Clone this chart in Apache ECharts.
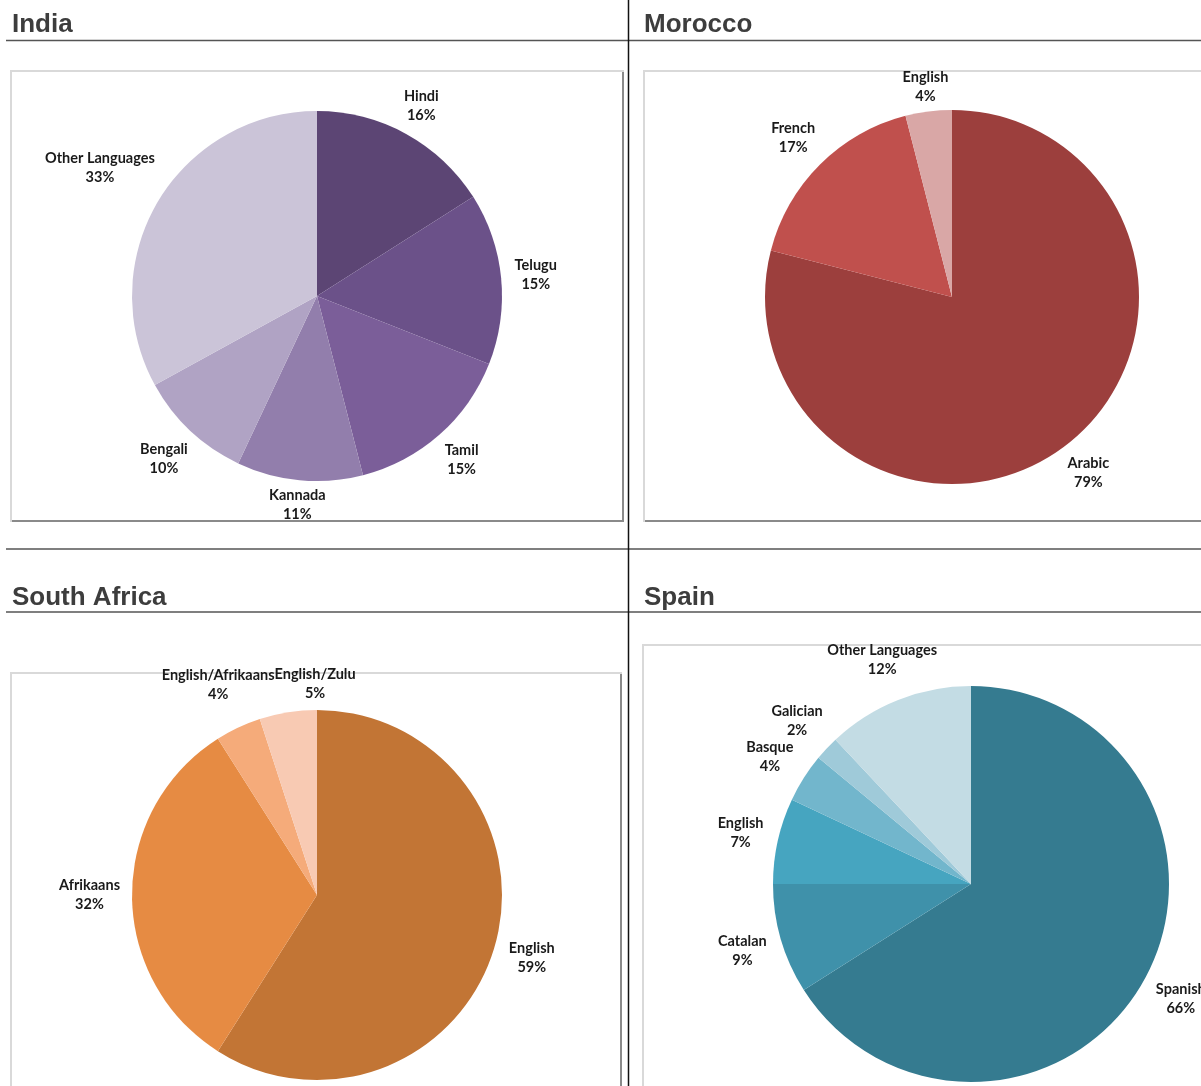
<!DOCTYPE html>
<html>
<head>
<meta charset="utf-8">
<script src="https://cdn.jsdelivr.net/npm/echarts@6/dist/echarts.min.js"></script>
<style>
html,body{margin:0;padding:0;background:#fff;}
#chart{width:1201px;height:1086px;}
</style>
</head>
<body>
<div id="chart"></div>
<script>
// ---- Data ----
const panelTitles = ['India', 'Morocco', 'South Africa', 'Spain'];

const indiaLangs = ['Hindi', 'Telugu', 'Tamil', 'Kannada', 'Bengali', 'Other Languages'];
const indiaPct = [16, 15, 15, 11, 10, 33];

const moroccoLangs = ['Arabic', 'French', 'English'];
const moroccoPct = [79, 17, 4];

const southAfricaLangs = ['English', 'Afrikaans', 'English/Afrikaans', 'English/Zulu'];
const southAfricaPct = [59, 32, 4, 5];

const spainLangs = ['Spanish', 'Catalan', 'English', 'Basque', 'Galician', 'Other Languages'];
const spainPct = [66, 9, 7, 4, 2, 12];

// ---- Styles ----
const indiaColors = ['#5c4574', '#6b5189', '#7b5e99', '#927eac', '#b0a3c4', '#cbc4d8'];
const moroccoColors = ['#9c3f3d', '#c0504d', '#d9a7a6'];
const southAfricaColors = ['#c27535', '#e68b43', '#f5ab7a', '#f8cab3'];
const spainColors = ['#357b90', '#3f91aa', '#46a5c0', '#72b6cc', '#9fcad9', '#c3dce4'];

function pieSeries(names, values, colors, cx, cy, r, shift) {
  const total = values.reduce((a, b) => a + b, 0);
  const mids = [];
  let acc = 0;
  values.forEach(v => { mids.push((acc + v / 2) / total * 2 * Math.PI); acc += v; });
  return {
    type: 'pie',
    center: [cx, cy],
    radius: r,
    startAngle: 90,
    clockwise: true,
    avoidLabelOverlap: false,
    silent: true,
    animation: false,
    data: names.map((n, i) => ({ name: n, value: values[i], itemStyle: { color: colors[i] } })),
    label: {
      show: true,
      position: 'outside',
      formatter: p => p.name + '\n' + p.value + '%',
      fontFamily: 'Lato',
      fontWeight: 'bold',
      fontSize: 14.5,
      lineHeight: 19,
      color: '#1a1a1a'
    },
    labelLine: { show: false },
    emphasis: { disabled: true },
    labelLayout: function (p) {
      const a = mids[p.dataIndex];
      const ux = Math.sin(a), uy = -Math.cos(a);
      const w = p.labelRect.width, h = p.labelRect.height;
      const gap = 3 + 9 * Math.abs(ux);
      const d = r + gap + Math.abs(ux) * w / 2 + Math.abs(uy) * (h / 2 - 1);
      const o = { x: cx + ux * d, y: cy + uy * d, align: 'center', verticalAlign: 'middle' };
      if (shift) o.moveOverlap = 'shiftX';
      return o;
    }
  };
}

function box(x, y, w, h) {
  return [
    { type: 'rect', shape: { x: x, y: y, width: w, height: h }, style: { fill: '#fff', stroke: '#d9d9d9', lineWidth: 2 }, z: -10 },
    { type: 'line', shape: { x1: x + w, y1: y + 1, x2: x + w, y2: y + h + 1 }, style: { stroke: '#8a8a8a', lineWidth: 2 }, z: -9 },
    { type: 'line', shape: { x1: x + 1, y1: y + h, x2: x + w + 1, y2: y + h }, style: { stroke: '#8a8a8a', lineWidth: 2 }, z: -9 }
  ];
}

function title(text, x, y) {
  return { type: 'text', x: x, y: y, style: { text: text, fill: '#3d3d3d', font: 'bold 26px "Liberation Sans", Arial, sans-serif', verticalAlign: 'middle', align: 'left' } };
}

const graphics = [].concat(
  box(11, 71, 612, 450),
  box(644, 71, 600, 450),
  box(11, 673, 610, 450),
  box(643, 645, 600, 480),
  [
    { type: 'line', shape: { x1: 6, y1: 40.5, x2: 1201, y2: 40.5 }, style: { stroke: '#555', lineWidth: 1.5 } },
    { type: 'line', shape: { x1: 6, y1: 549, x2: 1201, y2: 549 }, style: { stroke: '#555', lineWidth: 1.5 } },
    { type: 'line', shape: { x1: 6, y1: 612, x2: 1201, y2: 612 }, style: { stroke: '#555', lineWidth: 1.5 } },
    { type: 'line', shape: { x1: 628.5, y1: 0, x2: 628.5, y2: 1086 }, style: { stroke: '#111', lineWidth: 1.5 } },
    title(panelTitles[0], 12, 25),
    title(panelTitles[1], 644, 25),
    title(panelTitles[2], 12, 598),
    title(panelTitles[3], 644, 598)
  ]
);

const chart = echarts.init(document.getElementById('chart'));
chart.setOption({
  backgroundColor: '#fff',
  animation: false,
  graphic: graphics,
  series: [
    pieSeries(indiaLangs, indiaPct, indiaColors, 317, 296, 185, false),
    pieSeries(moroccoLangs, moroccoPct, moroccoColors, 952, 297, 187, false),
    pieSeries(southAfricaLangs, southAfricaPct, southAfricaColors, 317, 895, 185, true),
    pieSeries(spainLangs, spainPct, spainColors, 971, 884, 198, false)
  ]
});
</script>
</body>
</html>
